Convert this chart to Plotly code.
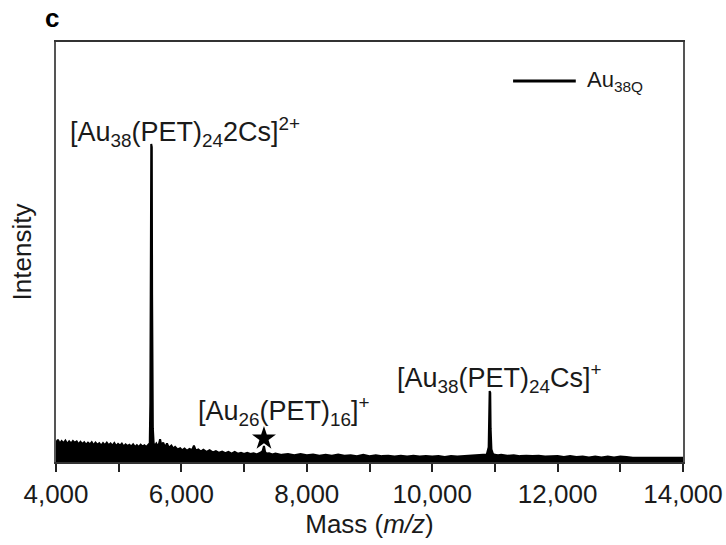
import plotly.graph_objects as go

# Spectrum (m/z, intensity in arbitrary units 0-100)
mass = [4000, 4030, 4060, 4090, 4120, 4150, 4180, 4210, 4240, 4270, 4300, 4330, 4360, 4390, 4420,
        4450, 4480, 4510, 4540, 4570, 4600, 4630, 4660, 4690, 4720, 4750, 4780, 4810, 4840, 4870,
        4900, 4930, 4960, 4990, 5020, 5050, 5080, 5110, 5140, 5170, 5200, 5230, 5260, 5290, 5320,
        5350, 5380, 5410, 5440, 5470, 5495, 5504, 5509, 5514, 5519, 5528, 5533, 5538, 5545, 5558, 5575,
        5600, 5630, 5660, 5680, 5710, 5740, 5770, 5800, 5840, 5870, 5900, 5940, 5980, 6010, 6050,
        6090, 6130, 6170, 6200, 6230, 6270, 6310, 6350, 6400, 6450, 6500, 6550, 6600, 6650, 6700,
        6750, 6800, 6850, 6900, 6950, 7000, 7050, 7100, 7150, 7200, 7260, 7295, 7317, 7335, 7360,
        7400, 7450, 7500, 7600, 7700, 7800, 7900, 8000, 8100, 8200, 8300, 8400, 8500, 8600, 8700,
        8800, 8900, 9000, 9100, 9200, 9300, 9400, 9500, 9600, 9700, 9800, 9900, 10000, 10100, 10200,
        10300, 10400, 10500, 10600, 10700, 10800, 10870, 10900, 10910, 10916, 10926, 10932, 10945, 10970, 11000,
        11050, 11100, 11200, 11300, 11400, 11500, 11600, 11700, 11800, 11900, 12000, 12100, 12200, 12300,
        12400, 12500, 12600, 12700, 12800, 12900, 13000, 13100, 13200, 13400, 13600, 13800, 14000]
intensity = [4.6, 5.3, 4.4, 5.0, 4.5, 5.1, 4.3, 4.9, 4.4, 5.0, 4.6, 4.9, 4.2, 4.8, 4.3,
             4.7, 4.1, 4.6, 4.2, 4.7, 4.0, 4.6, 4.1, 4.5, 3.9, 4.5, 4.0, 4.6, 4.0, 4.4,
             3.9, 4.5, 3.8, 4.3, 3.9, 4.4, 3.7, 4.2, 3.8, 4.1, 3.7, 4.2, 3.6, 4.0, 3.6,
             4.1, 3.7, 4.0, 3.6, 4.2, 4.5, 14.0, 28.0, 50.0, 75.7, 75.0, 40.0, 18.0, 8.0, 4.5, 3.8,
             4.4, 3.6, 5.4, 4.0, 4.6, 3.5, 4.4, 3.4, 3.9, 3.2, 3.6, 3.0, 3.3, 2.8, 3.2,
             2.7, 3.1, 2.8, 3.9, 2.7, 3.0, 2.5, 2.9, 2.4, 2.8, 2.3, 2.6, 2.2, 2.5, 2.1,
             2.4, 2.0, 2.4, 2.0, 2.2, 1.9, 2.2, 1.9, 2.1, 1.8, 2.2, 2.6, 3.8, 2.4, 2.0,
             2.1, 1.8, 2.0, 1.7, 1.9, 1.6, 1.9, 1.6, 1.8, 1.5, 1.7, 1.5, 1.8, 1.5, 1.6,
             1.4, 1.7, 1.4, 1.6, 1.4, 1.5, 1.3, 1.5, 1.3, 1.5, 1.3, 1.4, 1.3, 1.4, 1.2,
             1.4, 1.3, 1.4, 1.4, 1.5, 1.6, 1.8, 3.5, 9.0, 16.9, 16.5, 8.0, 3.0, 1.9, 1.7,
             1.6, 1.7, 1.5, 1.6, 1.4, 1.5, 1.4, 1.5, 1.3, 1.3, 1.4, 1.2, 1.4, 1.2,
             1.3, 1.1, 1.3, 1.1, 1.3, 1.1, 1.3, 1.2, 1.0, 1.0, 1.0, 1.0, 1.0]

star_mass = [7317]
star_intensity = [5.6]

tick_vals = [4000, 5000, 6000, 7000, 8000, 9000, 10000, 11000, 12000, 13000, 14000]
tick_text = ["4,000", "", "6,000", "", "8,000", "", "10,000", "", "12,000", "", "14,000"]

series_name = "Au<sub>38Q</sub>"
peak_labels = ["[Au<sub>38</sub>(PET)<sub>24</sub>2Cs]<sup>2+</sup>",
               "[Au<sub>26</sub>(PET)<sub>16</sub>]<sup>+</sup>",
               "[Au<sub>38</sub>(PET)<sub>24</sub>Cs]<sup>+</sup>"]

FONT = "Arial, Liberation Sans, sans-serif"
TXT = "#1a1a1a"

fig = go.Figure()
fig.add_trace(go.Scatter(x=mass, y=intensity, mode="lines", fill="tozeroy",
                         fillcolor="black", line=dict(color="black", width=2),
                         name=series_name, showlegend=False, hoverinfo="x+y"))
fig.add_trace(go.Scatter(x=star_mass, y=star_intensity, mode="markers",
                         marker=dict(symbol="star", size=18, color="black"),
                         showlegend=False, hoverinfo="skip"))

fig.update_xaxes(range=[4000, 14000], tickvals=tick_vals, ticktext=tick_text,
                 ticks="outside", ticklen=8, tickwidth=1.5, tickcolor="#222",
                 showline=True, linecolor="#333", linewidth=2, mirror=True,
                 showgrid=False, zeroline=False, automargin=False,
                 tickfont=dict(family=FONT, size=26, color=TXT),
                 title=dict(text="Mass (<i>m/z</i>)", font=dict(family=FONT, size=26, color=TXT),
                            standoff=2))
fig.update_yaxes(range=[0, 100], showticklabels=False, ticks="",
                 showline=True, linecolor="#555", linewidth=2, mirror=True,
                 showgrid=False, zeroline=False, automargin=False,
                 title=dict(text="Intensity", font=dict(family=FONT, size=26, color=TXT),
                            standoff=15))

ann = [
    dict(text=peak_labels[0], x=0.0191, y=0.786, xanchor="left", yanchor="middle"),
    dict(text=peak_labels[1], x=0.2233, y=0.121, xanchor="left", yanchor="middle"),
    dict(text=peak_labels[2], x=0.5407, y=0.200, xanchor="left", yanchor="middle"),
]
for a in ann:
    fig.add_annotation(xref="paper", yref="paper", showarrow=False,
                       font=dict(family=FONT, size=27, color=TXT), **a)

# legend (drawn manually to match the long line sample)
fig.add_shape(type="line", xref="paper", yref="paper", x0=0.729, x1=0.829, y0=0.907, y1=0.907,
              line=dict(color="black", width=3))
fig.add_annotation(xref="paper", yref="paper", x=0.844, y=0.907, xanchor="left", yanchor="middle",
                   text=series_name, showarrow=False, font=dict(family=FONT, size=22, color=TXT))
# panel letter
fig.add_annotation(xref="paper", yref="paper", x=-0.02, y=1.057, xanchor="left", yanchor="middle",
                   text="<b>c</b>", showarrow=False, font=dict(family=FONT, size=26, color="black"))

fig.update_layout(width=726, height=545, margin=dict(l=56, r=43, t=42, b=83),
                  plot_bgcolor="white", paper_bgcolor="white", showlegend=False)
# remove the page's default body margin so the 726x545 figure fits the window exactly
fig.write_html("out.html", config={"displayModeBar": False},
               post_script="document.body.style.margin='0';document.body.style.overflow='hidden';")
